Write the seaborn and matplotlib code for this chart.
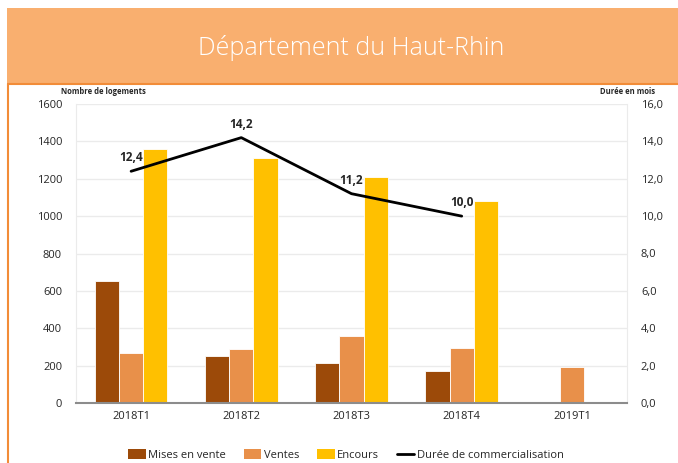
import numpy as np
import pandas as pd
import seaborn as sns
import matplotlib.pyplot as plt
from matplotlib.patches import Rectangle, Patch
from matplotlib.lines import Line2D

# data
trimestres = ['2018T1', '2018T2', '2018T3', '2018T4', '2019T1']
mises_en_vente = [655, 250, 215, 170, np.nan]
ventes = [265, 288, 358, 295, 193]
encours = [1358, 1310, 1208, 1080, np.nan]
duree = [12.4, 14.2, 11.2, 10.0]
series = ['Mises en vente', 'Ventes', 'Encours']
couleurs = ['#9C4A09', '#E8904A', '#FFC000']

df = pd.DataFrame({'trimestre': trimestres * 3,
                   'serie': np.repeat(series, len(trimestres)),
                   'valeur': mises_en_vente + ventes + encours})

sns.set_style('white')
plt.rcParams['font.family'] = ['Open Sans', 'DejaVu Sans']

fig = plt.figure(figsize=(6.78, 4.63), dpi=100)

# orange banner + frame lines
fig.patches.append(Rectangle((7 / 678, 1 - 84 / 463), 1, 76 / 463, transform=fig.transFigure,
                             facecolor='#F9AF6F', edgecolor='none', zorder=0))
fig.add_artist(Line2D([8 / 678, 1], [1 - 84 / 463] * 2, transform=fig.transFigure,
                      color='#F28C38', lw=1.5))
fig.add_artist(Line2D([8 / 678] * 2, [0, 1 - 84 / 463], transform=fig.transFigure,
                      color='#F28C38', lw=1.5))
fig.text(0.518, 1 - 48 / 463, 'Département du Haut-Rhin', color='white', fontsize=18,
         ha='center', va='center', fontweight='light')

ax = fig.add_axes([76 / 678, 1 - 403 / 463, 551 / 678, 299 / 463])
sns.barplot(data=df, x='trimestre', y='valeur', hue='serie', order=trimestres,
            hue_order=series, palette=couleurs, saturation=1, width=0.66,
            edgecolor='white', linewidth=0.6, ax=ax, legend=False)
ax.set_ylim(0, 1600)
ax.set_xlim(-0.5, 4.5)
ax.set_yticks(range(0, 1601, 200))
ax.set_xlabel('')
ax.set_ylabel('')
ax.grid(axis='y', color='#EBEBEB', lw=1)
ax.set_axisbelow(True)
for s in ['left', 'right', 'top']:
    ax.spines[s].set_color('#EBEBEB')
ax.spines['top'].set_visible(False)
ax.spines['bottom'].set_color('#8C8C8C')
ax.spines['bottom'].set_linewidth(1.5)
ax.tick_params(axis='x', length=0, labelsize=8, pad=6)
ax.set_xticks(np.arange(-0.5, 5, 1), minor=True)
ax.tick_params(axis='x', which='minor', length=4, color='#8C8C8C', width=1.2)
ax.tick_params(axis='y', length=0, labelsize=8, pad=10)

ax2 = ax.twinx()
sns.lineplot(x=np.arange(len(duree)), y=duree, color='black', lw=2, ax=ax2)
ax2.set_ylim(0, 16)
ax2.set_yticks(np.arange(0, 16.1, 2))
ax2.set_yticklabels([f'{v:.1f}'.replace('.', ',') for v in np.arange(0, 16.1, 2)])
ax2.tick_params(axis='y', length=0, labelsize=8, pad=10)
for s in ['left', 'right', 'top', 'bottom']:
    ax2.spines[s].set_visible(False)
for i, v in enumerate(duree):
    ax2.annotate(f'{v:.1f}'.replace('.', ','), (i, v), xytext=(0, 5),
                 textcoords='offset points', ha='center', va='bottom',
                 fontsize=8.5, fontweight='bold')

fig.text(61 / 678, 1 - 92 / 463, 'Nombre de logements', fontsize=5.5, fontweight='bold',
         va='center')
fig.text(655 / 678, 1 - 92 / 463, 'Durée en mois', fontsize=5.5, fontweight='bold',
         va='center', ha='right')

handles = [Patch(facecolor=c, edgecolor='none') for c in couleurs]
handles.append(Line2D([], [], color='black', lw=2))
fig.legend(handles, series + ['Durée de commercialisation'], loc='center',
           bbox_to_anchor=(0.51, 1 - 455 / 463), ncol=4, frameon=False, fontsize=8,
           handlelength=1.6, handleheight=0.9, handletextpad=0.2, columnspacing=1.6)

fig.savefig('out.png', dpi=100)
